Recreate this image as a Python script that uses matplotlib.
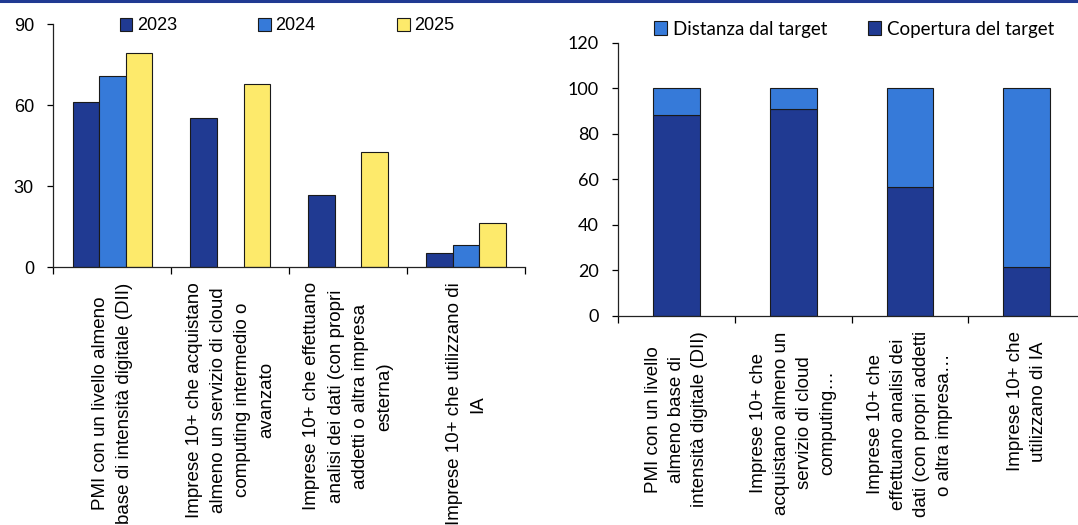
import numpy as np
import matplotlib
matplotlib.use("Agg")
import matplotlib.pyplot as plt
from matplotlib.lines import Line2D

# Left panel data
labels_left = [
    "PMI con un livello almeno\nbase di intensità digitale (DII)",
    "Imprese 10+ che acquistano\nalmeno un servizio di cloud\ncomputing intermedio o\navanzato",
    "Imprese 10+ che effettuano\nanalisi dei dati (con propri\naddetti o altra impresa\nesterna)",
    "Imprese 10+ che utilizzano di\nIA",
]
years = ["2023", "2024", "2025"]
vals_2023 = [61.2, 55.1, 26.7, 5.1]
vals_2024 = [70.7, np.nan, np.nan, 8.1]
vals_2025 = [79.5, 68.0, 42.7, 16.4]

# Right panel data
labels_right = [
    "PMI con un livello\nalmeno base di\nintensità digitale (DII)",
    "Imprese 10+ che\nacquistano almeno un\nservizio di cloud\ncomputing…",
    "Imprese 10+ che\neffettuano analisi dei\ndati (con propri addetti\no altra impresa…",
    "Imprese 10+ che\nutilizzano di IA",
]
copertura = [88.2, 90.7, 56.8, 21.6]
distanza = [11.8, 9.3, 43.2, 78.4]

DARK = "#203a92"
MID = "#367ad9"
YEL = "#fdea6b"
ARIAL = "Liberation Sans"
APTOS = "Lato"

fig = plt.figure(figsize=(10.78, 5.25), dpi=100)

# top rule
fig.add_artist(Line2D([0, 1], [0.998, 0.998], color=DARK, lw=2.2, transform=fig.transFigure))


def style_axis(ax, ymax, ystep, tick_font, labels, label_font, spacing):
    for s in ["top", "right"]:
        ax.spines[s].set_visible(False)
    for s in ["left", "bottom"]:
        ax.spines[s].set_linewidth(0.9)
        ax.spines[s].set_color("#222222")
    ax.set_xlim(-0.5, 3.5)
    ax.set_ylim(0, ymax)
    ax.set_yticks(np.arange(0, ymax + 1, ystep))
    ax.tick_params(axis="y", direction="out", length=4, width=0.9, labelsize=13, pad=10)
    for t in ax.get_yticklabels():
        t.set_fontfamily(tick_font)
    ax.set_xticks(np.arange(-0.5, 4, 1))
    ax.set_xticklabels([])
    ax.tick_params(axis="x", which="major", direction="out", length=5, width=0.9)
    ax.set_xticks(np.arange(4), minor=True)
    ax.set_xticklabels(labels, minor=True, rotation=90, ha="center", va="top",
                       multialignment="center", fontsize=13.5, fontfamily=label_font,
                       linespacing=spacing)
    ax.tick_params(axis="x", which="minor", length=0, pad=11)


# Left: grouped bars
ax1 = fig.add_axes([53.4 / 1078, 1 - 267 / 525, 471.7 / 1078, 242.7 / 525])
x = np.arange(len(labels_left))
w = 0.225
for i, (vals, col) in enumerate(zip([vals_2023, vals_2024, vals_2025], [DARK, MID, YEL])):
    ax1.bar(x + (i - 1) * w, vals, w, color=col, edgecolor="#1a1a1a", linewidth=0.8,
            label=years[i], zorder=2)
style_axis(ax1, 90, 30, ARIAL, labels_left, ARIAL, 1.55)
ax1.legend(loc="center", bbox_to_anchor=(287 / 1078, 1 - 26 / 525), bbox_transform=fig.transFigure,
           ncol=3, frameon=False, prop={"family": ARIAL, "size": 13},
           handlelength=0.7, handleheight=0.7, handletextpad=0.25, columnspacing=4.5,
           borderpad=0, borderaxespad=0)

# Right: stacked bars
ax2 = fig.add_axes([618.2 / 1078, 1 - 316 / 525, 466.8 / 1078, 273.3 / 525])
ax2.bar(x, copertura, 0.4, color=DARK, edgecolor="#1a1a1a", linewidth=0.8,
        label="Copertura del target", zorder=2)
ax2.bar(x, distanza, 0.4, bottom=copertura, color=MID, edgecolor="#1a1a1a", linewidth=0.8,
        label="Distanza dal target", zorder=2)
style_axis(ax2, 120, 20, APTOS, labels_right, ARIAL, 1.45)
handles, names = ax2.get_legend_handles_labels()
ax2.legend(handles[::-1], names[::-1], loc="center", bbox_to_anchor=(854 / 1078, 1 - 29 / 525),
           bbox_transform=fig.transFigure, ncol=2, frameon=False,
           prop={"family": APTOS, "size": 13.5},
           handlelength=0.7, handleheight=0.7, handletextpad=0.3, columnspacing=2.2,
           borderpad=0, borderaxespad=0)

fig.savefig("out.png", dpi=100)
